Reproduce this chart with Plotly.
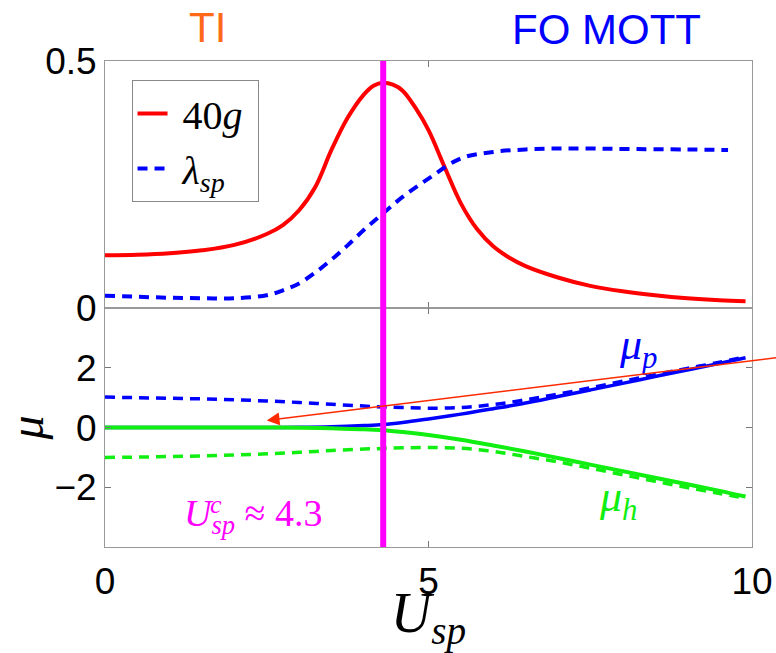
import plotly.graph_objects as go
from plotly.subplots import make_subplots

# ---- data ----
U_top = [0, 0.5, 1.0, 1.5, 2.0, 2.5, 2.75, 3.0, 3.25, 3.5, 3.75, 4.0, 4.15, 4.3,
         4.45, 4.6, 4.8, 5.0, 5.25, 5.5, 5.75, 6.0, 6.25, 6.5, 7.0, 7.5, 8.0,
         8.5, 9.0, 9.5, 9.9]
g40 = [0.107, 0.108, 0.111, 0.117, 0.128, 0.150, 0.168, 0.198, 0.245, 0.320,
       0.385, 0.432, 0.450, 0.456, 0.452, 0.440, 0.405, 0.360, 0.285, 0.212,
       0.160, 0.125, 0.102, 0.085, 0.062, 0.045, 0.034, 0.026, 0.020, 0.016,
       0.014]

U_lam = [0, 0.5, 1.0, 1.5, 2.0, 2.5, 2.75, 3.0, 3.25, 3.5, 3.75, 4.0, 4.3, 4.6,
         5.0, 5.5, 6.0, 6.5, 7.0, 7.5, 8.0, 9.0, 9.63]
lam_sp = [0.025, 0.023, 0.021, 0.020, 0.020, 0.026, 0.036, 0.050, 0.072, 0.098,
          0.127, 0.158, 0.192, 0.225, 0.262, 0.303, 0.316, 0.321, 0.323, 0.323,
          0.322, 0.321, 0.320]

U_bot = [0, 0.5, 1, 1.5, 2, 2.5, 3, 3.5, 4, 4.3, 4.6, 5, 5.5, 6, 6.5, 7, 7.5,
         8, 8.5, 9, 9.5, 9.9]
mu_p = [0, 0, 0, 0, 0, 0.002, 0.008, 0.025, 0.065, 0.10, 0.17, 0.29, 0.45,
        0.63, 0.82, 1.04, 1.26, 1.48, 1.71, 1.93, 2.15, 2.34]
mu_p_dash = [1.02, 1.00, 0.98, 0.96, 0.93, 0.89, 0.84, 0.78, 0.72, 0.69, 0.67,
             0.65, 0.67, 0.77, 0.93, 1.12, 1.33, 1.55, 1.77, 1.98, 2.19, 2.37]
mu_h = [0, 0, 0, 0, 0, 0, -0.005, -0.02, -0.06, -0.09, -0.15, -0.25, -0.41,
        -0.60, -0.80, -1.02, -1.24, -1.46, -1.68, -1.90, -2.12, -2.31]
mu_h_dash = [-1.0, -0.99, -0.97, -0.95, -0.92, -0.88, -0.83, -0.77, -0.72,
             -0.70, -0.68, -0.67, -0.69, -0.80, -0.97, -1.15, -1.36, -1.58,
             -1.80, -2.01, -2.21, -2.37]

U_c = 4.3
x_ticks = [0, 5, 10]
y_top_ticks = [0, 0.5]
y_top_text = ["0", "0.5"]
y_bot_ticks = [-2, 0, 2]
y_bot_text = ["\u22122", "0", "2"]

RED = "#ff0000"
BLUE = "#0000ff"
GREEN = "#11ee11"
MAG = "#ff00ff"
SERIF = "Liberation Serif"
SANS = "Liberation Sans"
NB = "\u00a0"

fig = make_subplots(rows=2, cols=1, shared_xaxes=True, vertical_spacing=0,
                    row_heights=[0.5085, 0.4915])

fig.add_trace(go.Scatter(x=U_top, y=g40, mode="lines",
                         name=NB + "40<i>g</i>" + NB, legendgroup="a",
                         line=dict(color=RED, width=4, shape="spline")), 1, 1)
fig.add_trace(go.Scatter(x=U_lam, y=lam_sp, mode="lines",
                         name=NB + "<i>λ</i><sub><i>sp</i></sub>", legendgroup="b",
                         line=dict(color=BLUE, width=4, dash="10px,7px",
                                   shape="spline")), 1, 1)

fig.add_trace(go.Scatter(x=U_bot, y=mu_p_dash, mode="lines", showlegend=False,
                         line=dict(color=BLUE, width=3.5, dash="10px,7px",
                                   shape="spline")), 2, 1)
fig.add_trace(go.Scatter(x=U_bot, y=mu_h_dash, mode="lines", showlegend=False,
                         line=dict(color=GREEN, width=3.5, dash="10px,7px",
                                   shape="spline")), 2, 1)
fig.add_trace(go.Scatter(x=U_bot, y=mu_p, mode="lines", showlegend=False,
                         line=dict(color=BLUE, width=3.5, shape="spline")), 2, 1)
fig.add_trace(go.Scatter(x=U_bot, y=mu_h, mode="lines", showlegend=False,
                         line=dict(color=GREEN, width=4, shape="spline")), 2, 1)

# critical line
fig.add_shape(type="line", xref="x", yref="paper", x0=U_c, x1=U_c, y0=0, y1=1,
              line=dict(color=MAG, width=6))

axis_common = dict(showline=True, mirror="ticks", linecolor="#999999",
                   linewidth=1, ticks="inside", ticklen=6, tickcolor="#777777",
                   showgrid=False, zeroline=False, automargin=False,
                   tickfont=dict(family=SANS, size=37, color="black"))

fig.update_xaxes(range=[0, 10], tickvals=x_ticks, **axis_common)
fig.update_xaxes(showticklabels=False, row=1, col=1)
fig.update_xaxes(ticklabelstandoff=2,
                 title=dict(text="<i>U</i><sub><i>sp</i></sub>", standoff=0,
                            font=dict(family=SERIF, size=56, color="black")),
                 row=2, col=1)
fig.update_yaxes(range=[0, 0.5], tickvals=y_top_ticks, ticktext=y_top_text,
                 row=1, col=1, **axis_common)
fig.update_yaxes(range=[-4, 4], tickvals=y_bot_ticks, ticktext=y_bot_text,
                 title=dict(text="<i>μ</i>", standoff=6,
                            font=dict(family=SERIF, size=48, color="black")),
                 row=2, col=1, **axis_common)

annos = [
    dict(text="TI", xref="paper", yref="paper", x=0.158, y=1.068,
         xanchor="center", yanchor="middle",
         showarrow=False, font=dict(family=SANS, size=42, color="#ff6a1a")),
    dict(text="FO MOTT", xref="paper", yref="paper", x=0.775, y=1.064,
         xanchor="center", yanchor="middle",
         showarrow=False, font=dict(family=SANS, size=42, color="#0000ff")),
    dict(text="<i>μ</i><sub><i>p</i></sub>", xref="x2", yref="y2", x=8.24, y=2.68,
         showarrow=False, font=dict(family=SERIF, size=44, color=BLUE)),
    dict(text="<i>μ</i><sub><i>h</i></sub>", xref="x2", yref="y2", x=7.93, y=-2.42,
         showarrow=False, font=dict(family=SERIF, size=44, color=GREEN)),
    dict(text="<i>U</i><sub><i>sp</i></sub> ≈ 4.3", xref="x2", yref="y2",
         x=1.19, y=-2.95, xanchor="left", showarrow=False,
         font=dict(family=SERIF, size=38, color=MAG)),
    dict(text="<i>c</i>", xref="x2", yref="y2", x=1.72, y=-2.58,
         xanchor="center", showarrow=False,
         font=dict(family=SERIF, size=26, color=MAG)),
    dict(text="", xref="x2", yref="y2", x=2.5, y=0.24,
         axref="x2", ayref="y2", ax=10.6, ay=2.40, showarrow=True,
         arrowhead=2, arrowsize=1.6, arrowwidth=1.6, arrowcolor="#ff2a00"),
]
fig.update_layout(annotations=annos)

fig.update_layout(
    width=776, height=653,
    margin=dict(l=105, r=24, t=61, b=106),
    plot_bgcolor="white", paper_bgcolor="white",
    legend=dict(x=0.041, y=0.961, xanchor="left", yanchor="top",
                bgcolor="white", bordercolor="#888888", borderwidth=1,
                tracegroupgap=0,
                font=dict(family=SERIF, size=40, color="black")),
)

fig.write_html("out.html")
